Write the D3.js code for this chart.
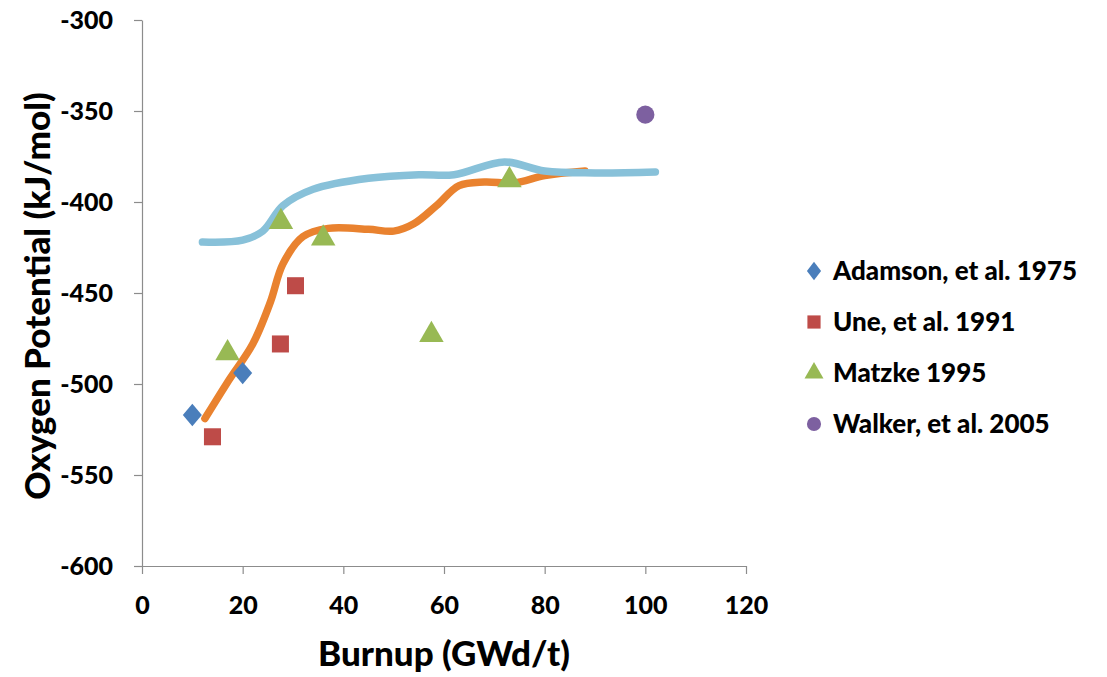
<!DOCTYPE html>
<html>
<head>
<meta charset="utf-8">
<script src="https://cdn.jsdelivr.net/npm/d3@7"></script>
<style>
  body { margin: 0; background: #fff; }
  svg text { font-family: Lato, "Open Sans", sans-serif; font-weight: bold; fill: #000; }
</style>
</head>
<body>
<svg id="chart"></svg>
<script>
// data
const adamsonX = [10, 20];
const adamsonY = [-517, -494];
const uneX = [14, 27.5, 30.5];
const uneY = [-529, -478, -446];
const matzkeX = [17, 27.6, 36, 57.5, 73];
const matzkeY = [-483, -411, -420, -473, -388];
const walkerX = [100];
const walkerY = [-352];

const blueLineX = [12, 20, 24, 28, 34, 45, 55, 62, 72, 80, 90, 102];
const blueLineY = [-422, -421, -416, -402, -393, -387, -385, -385, -378, -383, -384, -383.5];
const orangeLineX = [12.5, 17, 22, 25.5, 28, 32, 37, 45, 50, 54, 58.5, 63, 68, 74, 80, 88];
const orangeLineY = [-519, -499, -478, -455, -434, -419, -414.5, -415, -416, -412, -402, -391, -389, -389.5, -385.5, -383];

const xTicks = [0, 20, 40, 60, 80, 100, 120];
const yTicks = [-300, -350, -400, -450, -500, -550, -600];
const seriesNames = ["Adamson, et al. 1975", "Une, et al. 1991", "Matzke 1995", "Walker, et al. 2005"];

const width = 1107;
const height = 677;

const svg = d3.select("#chart")
    .attr("width", width)
    .attr("height", height);

const margin = { top: 20, right: 361, bottom: 111, left: 142 };
const chartWidth = width - margin.left - margin.right;
const chartHeight = height - margin.top - margin.bottom;

const chart = svg.append("g")
    .attr("transform", "translate(" + margin.left + "," + margin.top + ")");

const xScale = d3.scaleLinear().domain([0, 120]).range([0, chartWidth]);
const yScale = d3.scaleLinear().domain([-600, -300]).range([chartHeight, 0]);

// axes (plain hyphen for negatives, like the original)
const xAxis = chart.append("g")
    .attr("transform", `translate(0,${chartHeight})`)
    .call(d3.axisBottom(xScale).tickValues(xTicks).tickFormat(d => String(d))
        .tickSize(8).tickPadding(22).tickSizeOuter(0));
const yAxis = chart.append("g")
    .call(d3.axisLeft(yScale).tickValues(yTicks).tickFormat(d => String(d))
        .tickSize(8).tickPadding(21).tickSizeOuter(0));

[xAxis, yAxis].forEach(a => {
    a.selectAll("path, line").attr("stroke", "#8c8c8c").attr("stroke-width", 1.2);
    a.selectAll("text").style("font-size", "25px").style("font-weight", "900").attr("fill", "#000");
});

// smoothed lines
const line = d3.line()
    .x(d => xScale(d[0]))
    .y(d => yScale(d[1]))
    .curve(d3.curveCatmullRom.alpha(0.5));

chart.append("path")
    .datum(orangeLineX.map((x, i) => [x, orangeLineY[i]]))
    .attr("d", line)
    .attr("fill", "none")
    .attr("stroke", "#e9822f")
    .attr("stroke-width", 7.5)
    .attr("stroke-linecap", "round");

chart.append("path")
    .datum(blueLineX.map((x, i) => [x, blueLineY[i]]))
    .attr("d", line)
    .attr("fill", "none")
    .attr("stroke", "#88c1d9")
    .attr("stroke-width", 7.5)
    .attr("stroke-linecap", "round");

// markers
const colors = ["#4a7ebb", "#be4b48", "#98b954", "#7d60a0"];
const symbols = [d3.symbolDiamond, d3.symbolSquare, d3.symbolTriangle, d3.symbolCircle];
const sizes = [200, 290, 260, 260];
const seriesX = [adamsonX, uneX, matzkeX, walkerX];
const seriesY = [adamsonY, uneY, matzkeY, walkerY];

seriesX.forEach((xs, s) => {
    chart.selectAll(".pt" + s)
        .data(xs.map((x, i) => [x, seriesY[s][i]]))
        .enter().append("path")
        .attr("class", "pt" + s)
        .attr("d", d3.symbol().type(symbols[s]).size(sizes[s]))
        .attr("transform", d => `translate(${xScale(d[0])},${yScale(d[1])})` + (s === 0 ? " scale(1.25,0.85)" : ""))
        .attr("fill", colors[s]);
});

// axis titles
svg.append("text")
    .attr("x", margin.left + chartWidth / 2)
    .attr("y", 666)
    .attr("text-anchor", "middle")
    .style("font-size", "35px")
    .style("font-weight", "900")
    .text("Burnup (GWd/t)");

svg.append("text")
    .attr("transform", "rotate(-90)")
    .attr("x", -296)
    .attr("y", 50)
    .attr("text-anchor", "middle")
    .style("font-size", "35px")
    .style("font-weight", "900")
    .text("Oxygen Potential (kJ/mol)");

// legend
const legend = svg.append("g").attr("transform", "translate(814,271)");
seriesNames.forEach((name, i) => {
    const row = legend.append("g").attr("transform", `translate(0,${i * 51})`);
    row.append("path")
        .attr("d", d3.symbol().type(symbols[i]).size(sizes[i] * 0.6))
        .attr("transform", i === 0 ? "scale(1.2,0.9)" : "")
        .attr("fill", colors[i]);
    row.append("text")
        .attr("x", 19)
        .attr("dy", "0.36em")
        .style("font-size", "26px")
        .style("font-weight", "900")
        .text(name);
});
</script>
</body>
</html>
